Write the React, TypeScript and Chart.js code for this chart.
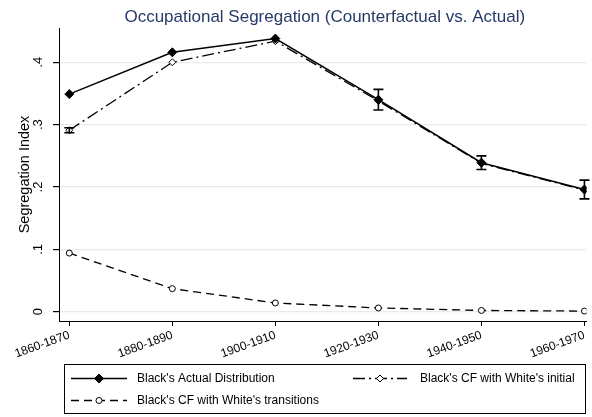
import React, { useEffect, useRef } from 'react';
import { Chart, registerables } from 'chart.js';
Chart.register(...registerables);

const periods = ['1860-1870', '1880-1890', '1900-1910', '1920-1930', '1940-1950', '1960-1970'];
const actual = [0.349, 0.416, 0.438, 0.340, 0.239, 0.196];
const cfInitial = [0.291, 0.400, 0.434, 0.338, 0.238, 0.195];
const cfTransitions = [0.094, 0.037, 0.014, 0.006, 0.002, 0.001];
const actualErr = [0, 0, 0, 0.0165, 0.011, 0.015];
const cfInitialErr = [0.004, 0, 0, 0, 0, 0];
const yTicks = [0, 0.1, 0.2, 0.3, 0.4];
const yTickLabels = ['0', '.1', '.2', '.3', '.4'];
const seriesNames = ["Black's Actual Distribution", "Black's CF with White's initial", "Black's CF with White's transitions"];
const titleText = 'Occupational Segregation (Counterfactual vs. Actual)';
const yTitle = 'Segregation Index';

const FONT = '"Liberation Sans", Arial, Helvetica, sans-serif';

const toPts = (arr: number[]) => arr.map((v, i) => ({ x: i, y: v }));

function drawMarker(ctx: CanvasRenderingContext2D, kind: string, x: number, y: number) {
  ctx.save();
  ctx.lineWidth = 1;
  ctx.strokeStyle = '#000';
  if (kind === 'diamondFilled' || kind === 'diamondHollow') {
    const r = kind === 'diamondFilled' ? 4.5 : 3.5;
    ctx.beginPath();
    ctx.moveTo(x, y - r);
    ctx.lineTo(x + r, y);
    ctx.lineTo(x, y + r);
    ctx.lineTo(x - r, y);
    ctx.closePath();
    ctx.fillStyle = kind === 'diamondFilled' ? '#000' : '#fff';
    ctx.fill();
    ctx.stroke();
  } else {
    ctx.beginPath();
    ctx.arc(x, y, 3, 0, Math.PI * 2);
    ctx.fillStyle = '#fff';
    ctx.fill();
    ctx.stroke();
  }
  ctx.restore();
}

const decorPlugin = {
  id: 'decor',
  afterDatasetsDraw(chart: any) {
    const ctx: CanvasRenderingContext2D = chart.ctx;
    const xs = chart.scales.x;
    const ys = chart.scales.y;
    // error bars
    const errs = [
      { vals: actual, err: actualErr },
      { vals: cfInitial, err: cfInitialErr },
    ];
    ctx.save();
    ctx.strokeStyle = '#000';
    ctx.lineWidth = 1.6;
    errs.forEach(({ vals, err }) => {
      err.forEach((e, i) => {
        if (!e) return;
        const x = xs.getPixelForValue(i);
        const y1 = ys.getPixelForValue(vals[i] + e);
        const y2 = ys.getPixelForValue(vals[i] - e);
        ctx.beginPath();
        ctx.moveTo(x, y1);
        ctx.lineTo(x, y2);
        ctx.moveTo(x - 5, y1);
        ctx.lineTo(x + 5, y1);
        ctx.moveTo(x - 5, y2);
        ctx.lineTo(x + 5, y2);
        ctx.stroke();
      });
    });
    ctx.restore();
  },
  afterDraw(chart: any) {
    const ctx: CanvasRenderingContext2D = chart.ctx;
    const ys = chart.scales.y;
    const area = chart.chartArea;
    ctx.save();
    // title
    ctx.fillStyle = '#263a68';
    ctx.font = `17px ${FONT}`;
    ctx.textAlign = 'center';
    ctx.textBaseline = 'alphabetic';
    ctx.fillText(titleText, (area.left + area.right) / 2 + 2, 22);
    // y tick labels (rotated)
    ctx.fillStyle = '#000';
    ctx.font = `13px ${FONT}`;
    yTicks.forEach((v, i) => {
      const y = ys.getPixelForValue(v);
      ctx.save();
      ctx.translate(42, y);
      ctx.rotate(-Math.PI / 2);
      ctx.textAlign = 'center';
      ctx.fillText(yTickLabels[i], 0, 0);
      ctx.restore();
    });
    // y title
    ctx.save();
    ctx.font = `14.5px ${FONT}`;
    ctx.translate(29, (area.top + area.bottom) / 2);
    ctx.rotate(-Math.PI / 2);
    ctx.textAlign = 'center';
    ctx.fillText(yTitle, 0, 0);
    ctx.restore();
    // legend
    const bx = 64.5, by = 364.5, bw = 521, bh = 49;
    ctx.strokeStyle = '#000';
    ctx.lineWidth = 1;
    ctx.strokeRect(bx, by, bw, bh);
    const entries = [
      { x1: 71, x2: 127, tx: 137, y: 378.5, dash: [] as number[], marker: 'diamondFilled', lw: 1.5, name: seriesNames[0] },
      { x1: 353, x2: 407, tx: 420, y: 378.5, dash: [12, 4, 2, 4], marker: 'diamondHollow', lw: 1.3, name: seriesNames[1] },
      { x1: 71, x2: 127, tx: 137, y: 400.5, dash: [8, 5], marker: 'circle', lw: 1.3, name: seriesNames[2] },
    ];
    entries.forEach((e) => {
      ctx.save();
      ctx.beginPath();
      ctx.setLineDash(e.dash);
      ctx.lineWidth = e.lw;
      ctx.moveTo(e.x1, e.y);
      ctx.lineTo(e.x2, e.y);
      ctx.stroke();
      ctx.restore();
      drawMarker(ctx, e.marker, (e.x1 + e.x2) / 2, e.y);
      ctx.fillStyle = '#000';
      ctx.font = `12px ${FONT}`;
      ctx.textAlign = 'left';
      ctx.textBaseline = 'middle';
      ctx.fillText(e.name, e.tx, e.y);
    });
    ctx.restore();
  },
};

export default function App() {
  const ref = useRef<HTMLCanvasElement | null>(null);
  useEffect(() => {
    if (!ref.current) return;
    const chart = new Chart(ref.current, {
      type: 'line',
      data: {
        datasets: [
          {
            label: seriesNames[0],
            data: toPts(actual),
            borderColor: '#000',
            borderWidth: 1.5,
            pointStyle: 'rectRot',
            pointRadius: 4.5,
            pointBackgroundColor: '#000',
            pointBorderColor: '#000',
            pointBorderWidth: 1,
            tension: 0,
          },
          {
            label: seriesNames[1],
            data: toPts(cfInitial),
            borderColor: '#000',
            borderWidth: 1.3,
            borderDash: [12, 4, 2, 4],
            pointStyle: 'rectRot',
            pointRadius: 3.5,
            pointBackgroundColor: '#fff',
            pointBorderColor: '#000',
            pointBorderWidth: 1,
            tension: 0,
          },
          {
            label: seriesNames[2],
            data: toPts(cfTransitions),
            borderColor: '#000',
            borderWidth: 1.3,
            borderDash: [8, 5],
            pointStyle: 'circle',
            pointRadius: 3,
            pointBackgroundColor: '#fff',
            pointBorderColor: '#000',
            pointBorderWidth: 1,
            tension: 0,
          },
        ],
      },
      options: {
        responsive: false,
        animation: false,
        devicePixelRatio: 1,
        layout: { padding: { top: 28, right: 2, left: 0, bottom: 0 } },
        plugins: {
          legend: { display: false },
          title: { display: false },
          tooltip: { enabled: false },
        },
        scales: {
          x: {
            type: 'linear',
            min: -0.1,
            max: 5.02,
            afterBuildTicks: (s: any) => {
              s.ticks = periods.map((_, i) => ({ value: i }));
            },
            afterFit: (s: any) => {
              s.height = 96;
            },
            ticks: {
              autoSkip: false,
              minRotation: 20,
              maxRotation: 20,
              padding: 2,
              color: '#000',
              font: { size: 12, family: FONT },
              callback: (v: any) => periods[Math.round(Number(v))] ?? '',
            },
            grid: { drawOnChartArea: false, drawTicks: true, tickLength: 5, tickColor: '#000', color: '#000' },
            border: { color: '#000', width: 1 },
          },
          y: {
            type: 'linear',
            min: -0.0149,
            max: 0.455,
            afterBuildTicks: (s: any) => {
              s.ticks = yTicks.map((v) => ({ value: v }));
            },
            afterFit: (s: any) => {
              s.width = 59;
            },
            ticks: { display: false },
            grid: { color: '#e4ecee', lineWidth: 1.2, tickColor: '#000', tickLength: 6, drawTicks: true },
            border: { color: '#000', width: 1 },
          },
        },
      },
      plugins: [decorPlugin],
    } as any);
    return () => chart.destroy();
  }, []);
  return (
    <div style={{ position: 'absolute', left: 0, top: 0, width: 592, height: 417, background: '#fff' }}>
      <canvas ref={ref} width={592} height={417} style={{ width: 592, height: 417, display: 'block' }} />
    </div>
  );
}
